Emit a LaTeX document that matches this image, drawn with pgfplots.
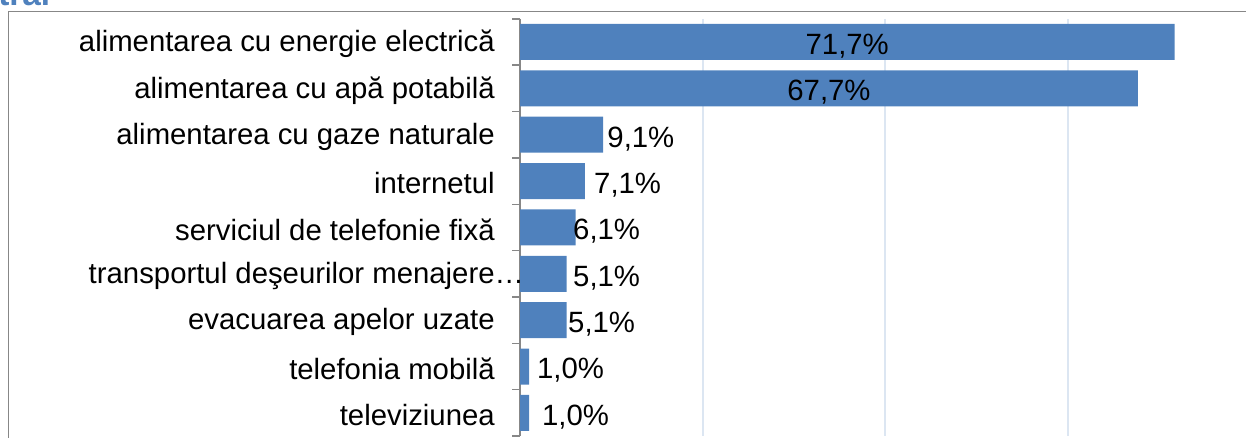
\documentclass[border=0pt]{standalone}
\usepackage{pgfplots}
\pgfplotsset{compat=1.18}
\usepackage{fontspec}
\setmainfont{Liberation Sans}
\definecolor{barblue}{HTML}{4F81BD}
\definecolor{gridc}{HTML}{DCE6F2}
\definecolor{framec}{HTML}{878787}
\definecolor{titleblue}{HTML}{4F81BD}
\begin{document}
\begin{tikzpicture}[x=0.75pt,y=0.75pt]
\useasboundingbox (0,0) rectangle (1246,437);
\clip (0,0) rectangle (1246,437);
\node[anchor=base west, inner sep=0pt, text=titleblue, font=\bfseries\fontsize{25}{29}\selectfont] at (-2,431.5) {tral};
\draw[framec, line width=1.1pt] (8.5,-10) -- (8.5,425.5) -- (1260,425.5);
\begin{axis}[
  at={(390pt,313.65pt)}, anchor=north west,
  scale only axis, width=547.7pt, height=313pt,
  xmin=0, xmax=80, ymin=-0.5, ymax=8.5, y dir=reverse,
  axis lines*=left,
  x axis line style={draw=none},
  y axis line style={draw=framec, line width=1.1pt},
  xtick={20,40,60,80}, xticklabels={}, xmajorgrids,
  major x tick style={draw=none},
  grid style={draw=gridc, line width=1.5pt},
  ytick={0,1,2,3,4,5,6,7,8},
  yticklabels={alimentarea cu energie electrică, alimentarea cu apă potabilă, alimentarea cu gaze naturale, internetul, serviciul de telefonie fixă, transportul deşeurilor menajere\rlap{…}, evacuarea apelor uzate, telefonia mobilă, televiziunea},
  major tick length=0pt,
  minor ytick={-0.5,0.5,1.5,2.5,3.5,4.5,5.5,6.5,7.5,8.5},
  minor y tick style={draw=framec, line width=1.1pt},
  minor tick length=6pt,
  tick align=outside,
  yticklabel style={anchor=east, inner sep=0pt, xshift=-18.75pt, yshift=-1.5pt, font=\fontsize{22}{26}\selectfont},
  clip=false,
]
\addplot[xbar, bar width=27pt, fill=barblue, draw=none] coordinates {(71.7,0) (67.7,1) (9.1,2) (7.1,3) (6.1,4) (5.1,5) (5.1,6) (1.0,7) (1.0,8)};
\addplot[only marks, mark=none, nodes near coords, point meta=explicit symbolic,
  nodes near coords style={anchor=center, inner sep=0pt, yshift=-3pt, font=\fontsize{22}{26}\selectfont}]
  coordinates {(35.85,0) [71,7\%] (33.85,1) [67,7\%]};
\addplot[only marks, mark=none, nodes near coords, point meta=explicit symbolic,
  nodes near coords style={anchor=west, inner sep=0pt, yshift=-3pt, font=\fontsize{22}{26}\selectfont}]
  coordinates {(9.55,2) [9,1\%] (8.1,3) [7,1\%] (5.8,4) [6,1\%] (5.8,5) [5,1\%] (5.25,6) [5,1\%] (1.85,7) [1,0\%] (2.4,8) [1,0\%]};
\end{axis}
\end{tikzpicture}
\end{document}
